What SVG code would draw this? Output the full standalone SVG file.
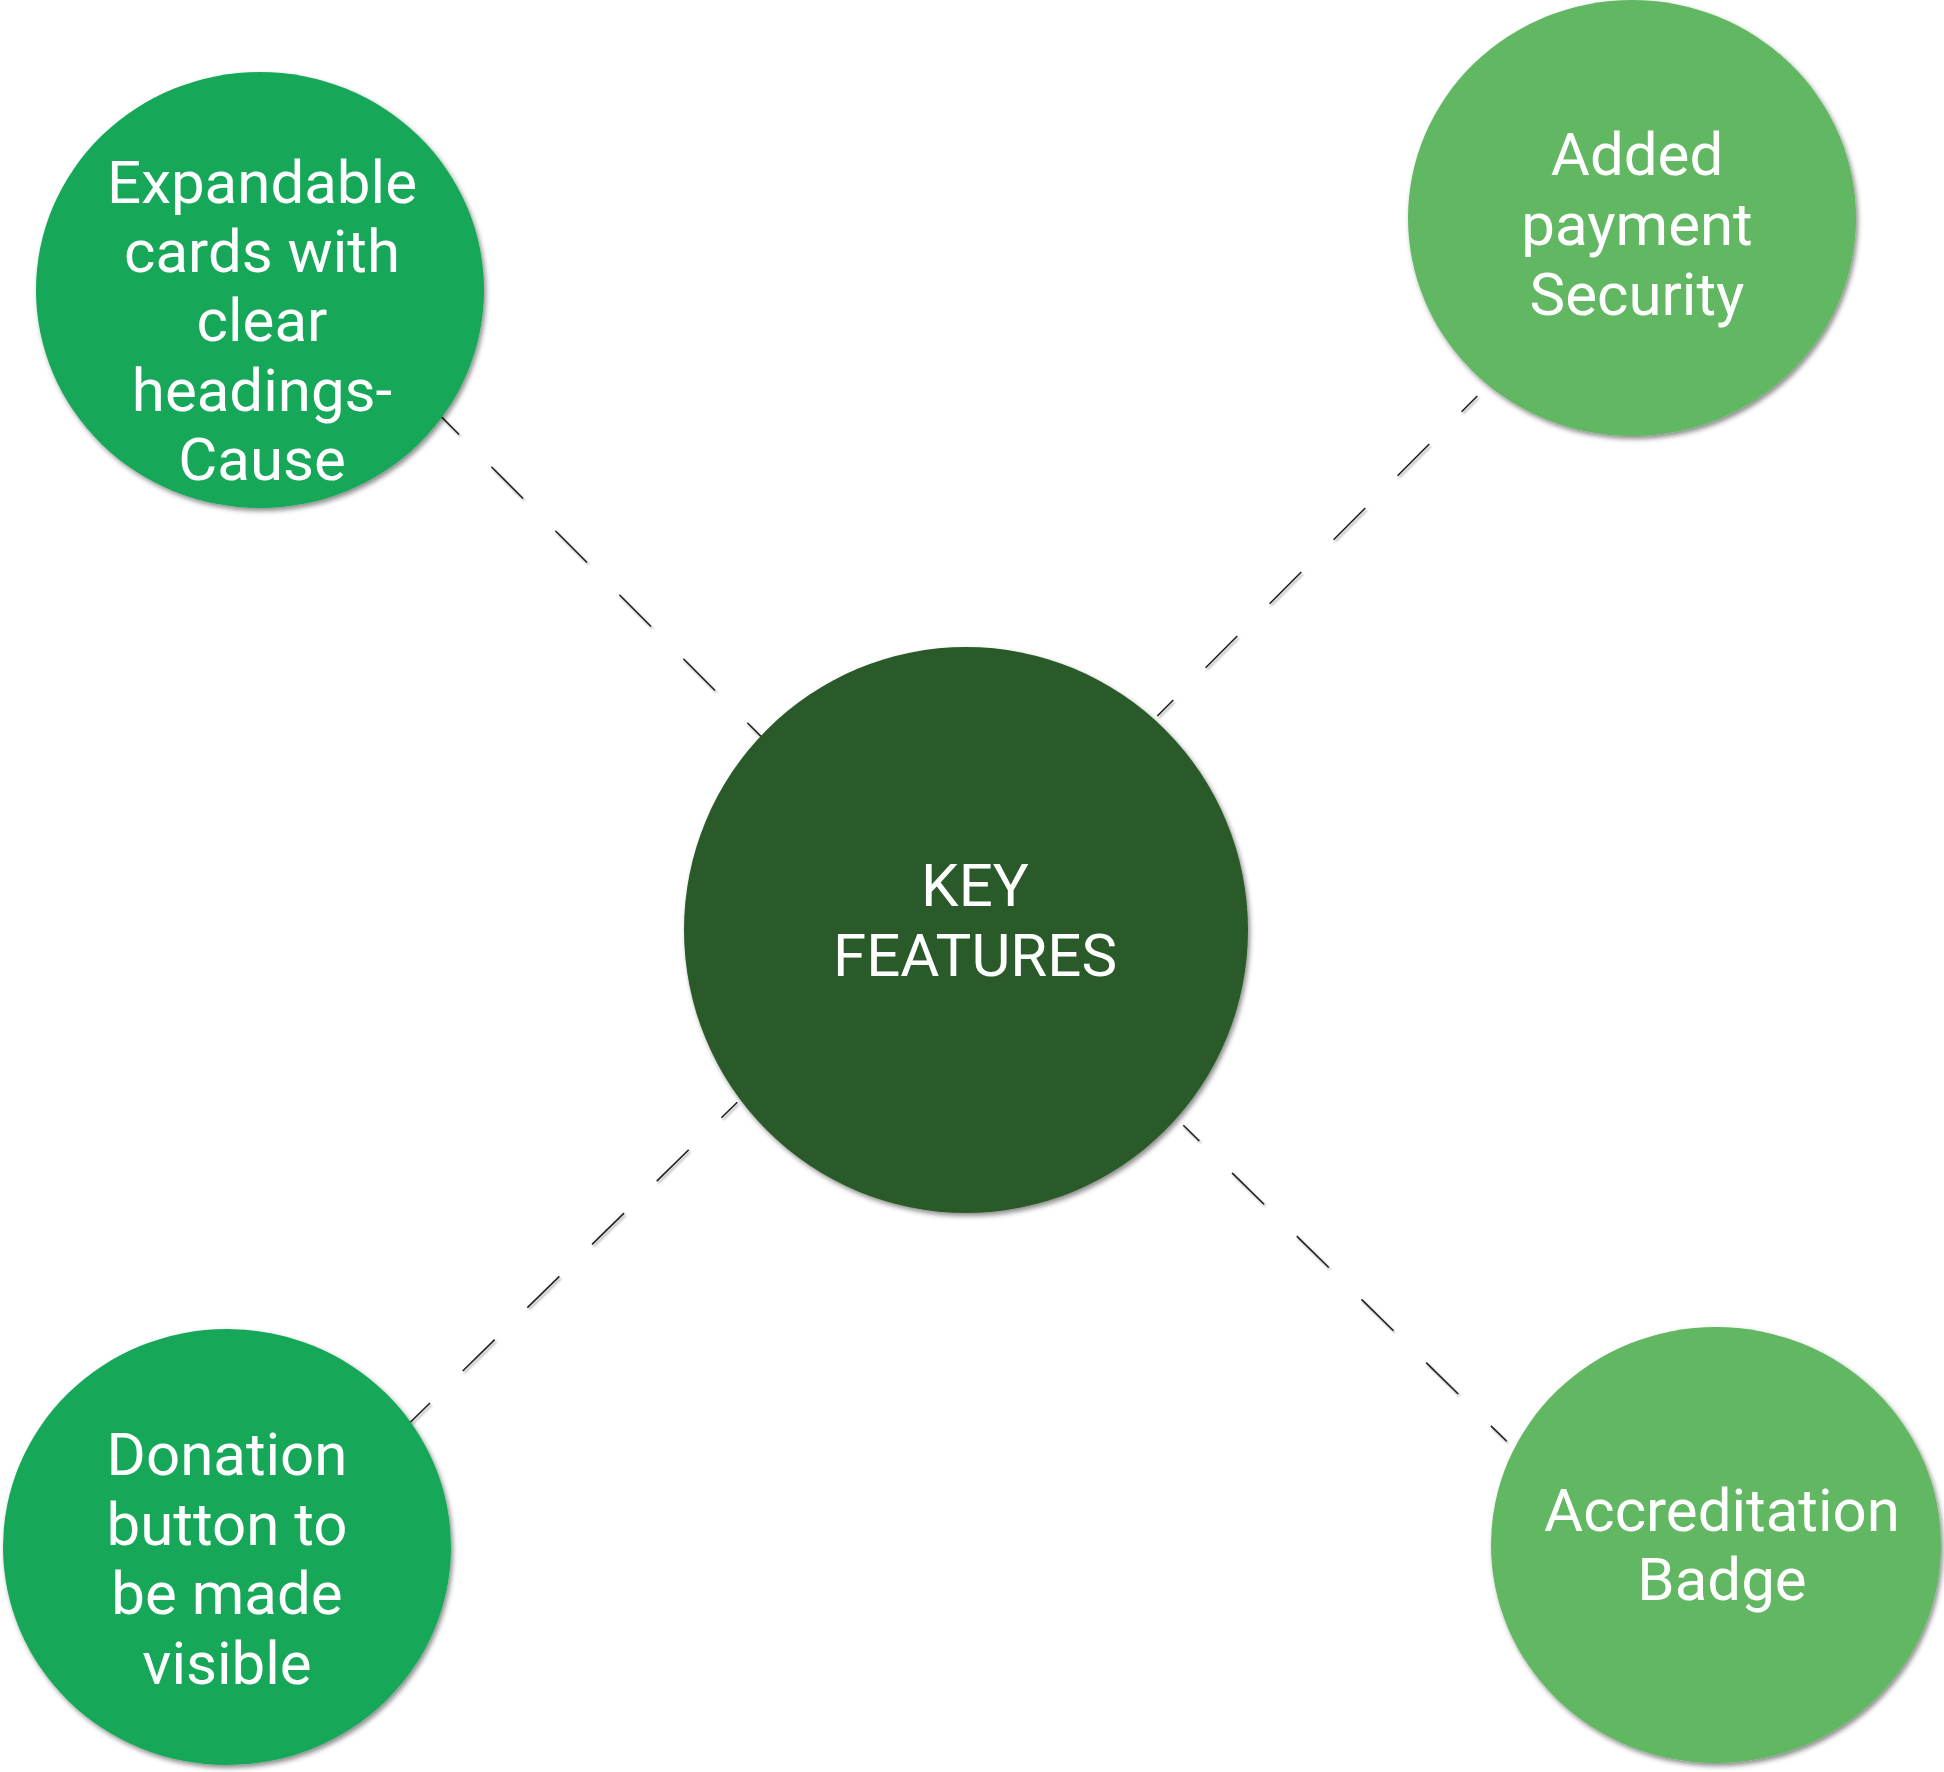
<svg xmlns="http://www.w3.org/2000/svg" width="1944" height="1772" viewBox="0 0 1944 1772">
  <defs>
    <filter id="shadow" x="-10%" y="-10%" width="125%" height="125%">
      <feDropShadow dx="2" dy="3" stdDeviation="2.5" flood-color="#000" flood-opacity="0.45"/>
    </filter>
    <filter id="lineShadow" x="-10%" y="-10%" width="125%" height="125%">
      <feDropShadow dx="1.5" dy="2" stdDeviation="1.2" flood-color="#000" flood-opacity="0.35"/>
    </filter>
  </defs>
  <style>
    .conn { fill: none; stroke: #222; stroke-width: 1.6; stroke-dasharray: 44.8 45.7; }
    .dark { fill: #13A858; }
    .light { fill: #62B762; }
    .core { fill: #2B5A2A; }
    .lbl { font-family: Roboto, "Liberation Sans", sans-serif; font-size: 60px; fill: #FFFFFF; text-anchor: middle; }
  </style>
  <rect x="0" y="0" width="1944" height="1772" fill="#FFFFFF"/>

  <g id="connectors" filter="url(#lineShadow)">
    <line class="conn" x1="427.4" y1="402.8" x2="800" y2="775.4"/>
    <line class="conn" x1="1157.3" y1="716" x2="1477.3" y2="396" stroke-dashoffset="22.2"/>
    <line class="conn" x1="398" y1="1434.3" x2="737.3" y2="1102.2"/>
    <line class="conn" x1="1183.3" y1="1125.3" x2="1506.7" y2="1441.3" stroke-dashoffset="22.4"/>
  </g>

  <g id="node-center">
    <ellipse class="core" cx="966" cy="930" rx="282" ry="283" filter="url(#shadow)"/>
    <text class="lbl" x="975" y="906">KEY</text>
    <text class="lbl" x="975" y="976">FEATURES</text>
  </g>

  <g id="node-expandable">
    <ellipse class="dark" cx="260" cy="290" rx="224" ry="218" filter="url(#shadow)"/>
    <text class="lbl" x="262" y="203">Expandable</text>
    <text class="lbl" x="262" y="272">cards with</text>
    <text class="lbl" x="262" y="341">clear</text>
    <text class="lbl" x="262" y="411">headings-</text>
    <text class="lbl" x="262" y="480">Cause</text>
  </g>

  <g id="node-payment">
    <ellipse class="light" cx="1632" cy="218" rx="224" ry="218" filter="url(#shadow)"/>
    <text class="lbl" x="1637" y="175">Added</text>
    <text class="lbl" x="1637" y="245">payment</text>
    <text class="lbl" x="1637" y="315">Security</text>
  </g>

  <g id="node-donation">
    <ellipse class="dark" cx="227" cy="1547" rx="224" ry="218" filter="url(#shadow)"/>
    <text class="lbl" x="227" y="1475">Donation</text>
    <text class="lbl" x="227" y="1545">button to</text>
    <text class="lbl" x="227" y="1614">be made</text>
    <text class="lbl" x="227" y="1684">visible</text>
  </g>

  <g id="node-accreditation">
    <ellipse class="light" cx="1716" cy="1545" rx="225" ry="218" filter="url(#shadow)"/>
    <text class="lbl" x="1722" y="1531">Accreditation</text>
    <text class="lbl" x="1722" y="1600">Badge</text>
  </g>
</svg>
